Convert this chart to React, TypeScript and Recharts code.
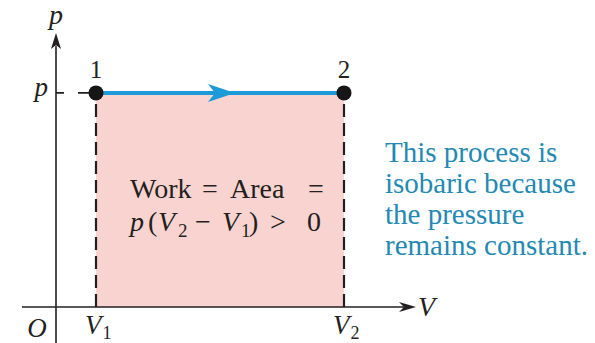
import React from 'react';
import {
  ComposedChart,
  Line,
  Scatter,
  XAxis,
  YAxis,
  ReferenceArea,
  ReferenceLine,
  ReferenceDot,
} from 'recharts';

// isobaric process values (symbolic)
const V1 = 1;
const V2 = 7.2;
const P = 5;

const pathPoints = [
  { V: V1, p: P },
  { V: V2, p: P },
];

const states = [
  { V: V1, p: P, label: '1' },
  { V: V2, p: P, label: '2' },
];

const xTicks = [0, V1, V2];
const xTickLabels = ['O', '1', '2'];
const yTicks = [P];

const noteLines = ['This process is', 'isobaric because', 'the pressure', 'remains constant.'];

// axis extents (drawn arrows)
const X_AXIS_FROM = -0.85;
const X_AXIS_TO = 9;
const Y_AXIS_FROM = -0.9;
const Y_AXIS_TO = 6.4;

const SERIF = "'Liberation Serif', 'Times New Roman', serif";
const INK = '#231f20';
const BLUE = '#1c9bd8';
const TEAL = '#2389b3';
const PINK = '#f9d3cf';

const XTick = ({ x, y, payload }: any) => {
  const i = xTicks.indexOf(payload.value);
  if (i === 0) {
    return (
      <text x={x - 19} y={y + 30} textAnchor="middle" fontFamily={SERIF} fontSize={27} fontStyle="italic" fill={INK}>
        O
      </text>
    );
  }
  return (
    <text x={x - 11} y={y + 27} fontFamily={SERIF} fontSize={27} fill={INK}>
      <tspan fontStyle="italic">V</tspan>
      <tspan fontSize={18} dx={1} dy={5}>{xTickLabels[i]}</tspan>
    </text>
  );
};

const YTick = ({ x, y }: any) => (
  <text x={x} y={y + 3} textAnchor="end" fontFamily={SERIF} fontSize={27} fontStyle="italic" fill={INK}>
    p
  </text>
);

const StateDot = ({ cx, cy, payload }: any) => (
  <g>
    <circle cx={cx} cy={cy} r={7.5} fill="#161616" />
    <text x={cx} y={cy - 15} textAnchor="middle" fontFamily={SERIF} fontSize={25} fill={INK}>
      {payload.label}
    </text>
  </g>
);

const Arrow = ({ cx, cy, dir }: any) => {
  let d = '';
  if (dir === 'up') d = `M${cx},${cy} L${cx - 5},${cy + 16} L${cx},${cy + 12} L${cx + 5},${cy + 16} Z`;
  if (dir === 'right') d = `M${cx},${cy} L${cx - 17},${cy - 5} L${cx - 12},${cy} L${cx - 17},${cy + 5} Z`;
  if (dir === 'mid') d = `M${cx + 15},${cy} L${cx - 12},${cy - 9} L${cx - 5},${cy} L${cx - 12},${cy + 9} Z`;
  return <path d={d} fill={dir === 'mid' ? BLUE : INK} />;
};

const AreaNote = ({ viewBox }: any) => {
  if (!viewBox) return null;
  const cx = viewBox.x + viewBox.width / 2;
  const base = viewBox.y + viewBox.height / 2;
  const t = { fontFamily: SERIF, fontSize: 28, fill: INK };
  return (
    <g>
      <text y={base - 2} {...t}>
        <tspan x={cx - 90}>Work</tspan>
        <tspan x={cx - 18}>=</tspan>
        <tspan x={cx + 10}>Area</tspan>
        <tspan x={cx + 88}>=</tspan>
      </text>
      <text y={base + 31} {...t}>
        <tspan x={cx - 90} fontStyle="italic">p</tspan>
        <tspan x={cx - 72}>(</tspan>
        <tspan x={cx - 62} fontStyle="italic">V</tspan>
        <tspan x={cx - 42} dy={6} fontSize={19}>2</tspan>
        <tspan x={cx - 25} dy={-6}>−</tspan>
        <tspan x={cx + 2} fontStyle="italic">V</tspan>
        <tspan x={cx + 21} dy={6} fontSize={19}>1</tspan>
        <tspan x={cx + 29} dy={-6}>)</tspan>
        <tspan x={cx + 50}>&gt;</tspan>
        <tspan x={cx + 87}>0</tspan>
      </text>
    </g>
  );
};

export default function App() {
  return (
    <div style={{ position: 'absolute', left: 0, top: 0, width: 595, height: 343, background: '#fff' }}>
      <ComposedChart width={595} height={343} data={pathPoints} margin={{ top: 0, right: 0, bottom: 0, left: 0 }}>
        <XAxis
          type="number"
          dataKey="V"
          domain={[0, 13.475]}
          allowDataOverflow
          ticks={xTicks}
          interval={0}
          height={36}
          axisLine={false}
          tickLine={false}
          tickSize={0}
          tickMargin={0}
          tick={<XTick />}
        />
        <YAxis
          type="number"
          domain={[0, 7.17]}
          allowDataOverflow
          ticks={yTicks}
          width={56}
          axisLine={false}
          tickLine={false}
          tickSize={0}
          tickMargin={8}
          tick={<YTick />}
        />
        <ReferenceArea x1={V1} x2={V2} y1={0} y2={P} fill={PINK} fillOpacity={1} stroke="none" label={<AreaNote />} />
        <ReferenceLine segment={[{ x: V1, y: 0 }, { x: V1, y: P }]} stroke={INK} strokeWidth={2.2} strokeDasharray="13 6" />
        <ReferenceLine segment={[{ x: V2, y: 0 }, { x: V2, y: P }]} stroke={INK} strokeWidth={2.2} strokeDasharray="13 6" />
        <ReferenceLine segment={[{ x: 0, y: P }, { x: V1, y: P }]} stroke={INK} strokeWidth={1.6} strokeDasharray="8 14 20" />
        <ReferenceLine
          segment={[{ x: X_AXIS_FROM, y: 0 }, { x: X_AXIS_TO - 0.3, y: 0 }]}
          stroke={INK}
          strokeWidth={1.6}
          ifOverflow="visible"
        />
        <ReferenceLine
          segment={[{ x: 0, y: Y_AXIS_FROM }, { x: 0, y: Y_AXIS_TO - 0.3 }]}
          stroke={INK}
          strokeWidth={1.6}
          ifOverflow="visible"
        />
        <ReferenceDot x={0} y={Y_AXIS_TO} ifOverflow="visible" shape={(p: any) => <Arrow {...p} dir="up" />} />
        <ReferenceDot x={X_AXIS_TO} y={0} ifOverflow="visible" shape={(p: any) => <Arrow {...p} dir="right" />} />
        <Line dataKey="p" stroke={BLUE} strokeWidth={4} dot={false} isAnimationActive={false} />
        <ReferenceDot x={(V1 + V2) / 2} y={P} shape={(p: any) => <Arrow {...p} dir="mid" />} />
        <Scatter data={states} dataKey="p" shape={<StateDot />} isAnimationActive={false} />
        <text x={56} y={24} textAnchor="middle" fontFamily={SERIF} fontSize={28} fontStyle="italic" fill={INK}>
          p
        </text>
        <text x={418} y={316} fontFamily={SERIF} fontSize={28} fontStyle="italic" fill={INK}>
          V
        </text>
        {noteLines.map((line, i) => (
          <text key={line} x={385} y={162 + i * 31} fontFamily={SERIF} fontSize={29} fill={TEAL}>
            {line}
          </text>
        ))}
      </ComposedChart>
    </div>
  );
}
